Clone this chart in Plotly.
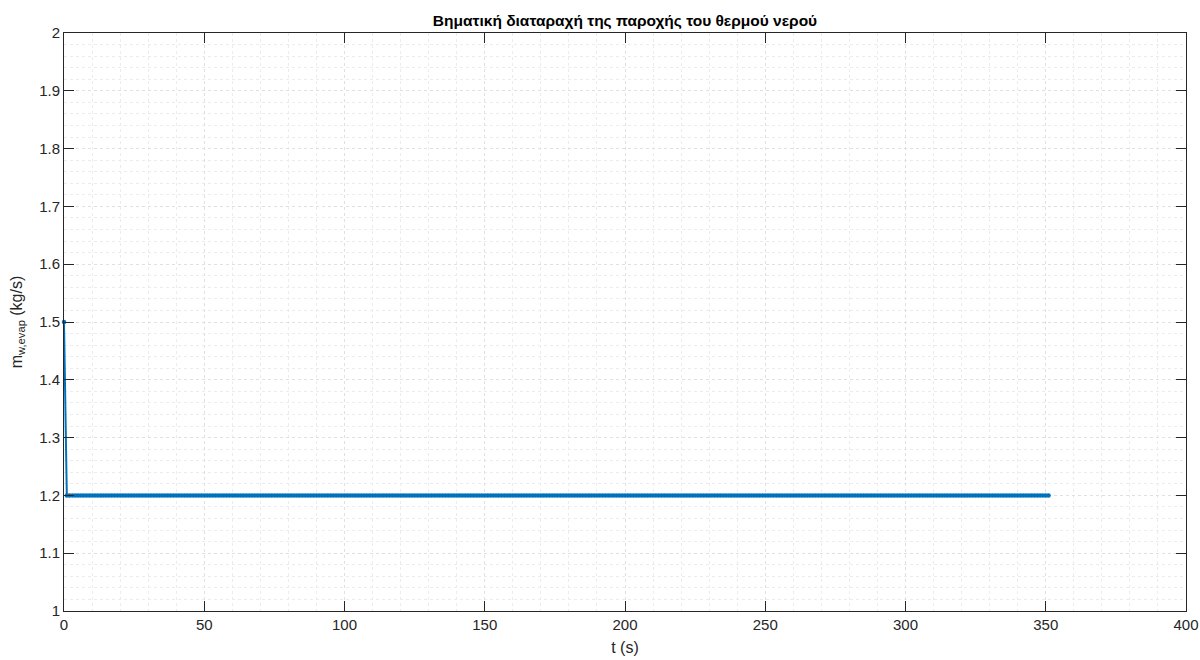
import plotly.graph_objects as go

# Step disturbance of the hot-water mass flow (sampled every second)
time_s = list(range(0, 352))
flow_initial = 1.5
flow_after_step = 1.2
flow_kg_s = [flow_initial] + [flow_after_step] * (len(time_s) - 1)

x_ticks = [0, 50, 100, 150, 200, 250, 300, 350, 400]
y_ticks = [1, 1.1, 1.2, 1.3, 1.4, 1.5, 1.6, 1.7, 1.8, 1.9, 2]

axis_color = "#262626"
grid_major = "#e0e0e0"
grid_minor = "#ececec"
font_family = "Liberation Sans, Arial, sans-serif"

fig = go.Figure()
fig.add_trace(go.Scatter(
    x=time_s, y=flow_kg_s,
    mode="lines+markers",
    line=dict(color="#0072BD", width=2),
    marker=dict(color="#0072BD", size=4.5),
    cliponaxis=False,
    showlegend=False,
))

common = dict(
    showline=True, linecolor=axis_color, linewidth=1, mirror="ticks",
    ticks="inside", ticklen=10, tickcolor=axis_color, tickwidth=1,
    showgrid=True, gridcolor=grid_major, griddash="dot", gridwidth=1,
    zeroline=False, automargin=False,
    tickfont=dict(family=font_family, size=15, color=axis_color),
)

fig.update_xaxes(
    range=[0, 400], tickvals=x_ticks, ticktext=[str(v) for v in x_ticks],
    title=dict(text="t (s)", font=dict(family=font_family, size=16, color=axis_color), standoff=9),
    minor=dict(dtick=10, showgrid=True, gridcolor=grid_minor, griddash="dot", ticks=""),
    **common,
)
fig.update_yaxes(
    range=[1, 2], tickvals=y_ticks, ticktext=[f"{v:g}" for v in y_ticks],
    title=dict(text="m<sub>w,evap</sub> (kg/s)", font=dict(family=font_family, size=16, color=axis_color), standoff=12),
    minor=dict(dtick=0.02, showgrid=True, gridcolor=grid_minor, griddash="dot", ticks=""),
    **common,
)

fig.update_layout(
    width=1200, height=660,
    margin=dict(l=64, r=14, t=33, b=49),
    paper_bgcolor="white", plot_bgcolor="white",
    title=dict(
        text="<b>Βηματική διαταραχή της παροχής του θερμού νερού</b>",
        x=(64 + 1186) / 2 / 1200, xanchor="center", y=1 - 21 / 660, yanchor="middle",
        font=dict(family=font_family, size=15.5, color="#000000"),
    ),
)

fig.write_html("out.html")
